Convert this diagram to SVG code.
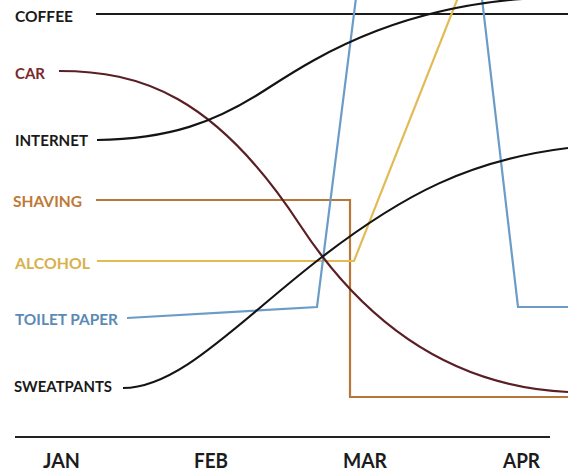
<svg xmlns="http://www.w3.org/2000/svg" width="568" height="473" viewBox="0 0 568 473">
<style>
text{font-family:Lato,"Open Sans","Liberation Sans",sans-serif;font-weight:700;}
.lbl{font-size:16px;}
.mon{font-size:20px;fill:#1c1c1c;}
.ln{fill:none;stroke-width:2.2;stroke-linejoin:miter;}
.k{fill:#1a1a1a;}
</style>
<rect width="568" height="473" fill="#ffffff"/>
<g id="connectors">
<path id="l-coffee" class="ln" stroke="#1a1a1a" d="M96,14 L568,14"/>
<path id="l-shaving" class="ln" stroke="#b8773a" d="M96,200 L350,200 L350,397 L568,397"/>
<path id="l-alcohol" class="ln" stroke="#e2bb55" d="M97,261 L354,261 L461,-10"/>
<path id="l-toilet" class="ln" stroke="#6b9cc8" d="M127,318 L317,307 L357,-10 L481,-10 L518,307 L568,307"/>
<path id="l-car" class="ln" stroke="#5a1f24" d="M59,71 C140,71 215,95 300,225 C340,286 420,385 568,392"/>
<path id="l-internet" class="ln" stroke="#141414" d="M97,140 C170,139 215,122 262,92 C309,62 400,-2 568,-3"/>
<path id="l-sweatpants" class="ln" stroke="#141414" d="M123,388 C180,388 240,320 322,257 C404,194 470,160 568,148"/>
<path id="axis" class="ln" stroke="#222222" d="M15,437 L550,437"/>
</g>
<g id="coffee"><text class="lbl k" x="15" y="22" textLength="58" lengthAdjust="spacingAndGlyphs">COFFEE</text></g>
<g id="car"><text class="lbl" fill="#7a2a2c" x="15" y="79" textLength="30" lengthAdjust="spacingAndGlyphs">CAR</text></g>
<g id="internet"><text class="lbl k" x="15" y="146" textLength="73" lengthAdjust="spacingAndGlyphs">INTERNET</text></g>
<g id="shaving"><text class="lbl" fill="#c07836" x="13" y="207" textLength="69" lengthAdjust="spacingAndGlyphs">SHAVING</text></g>
<g id="alcohol"><text class="lbl" fill="#d7b14c" x="15" y="269" textLength="75" lengthAdjust="spacingAndGlyphs">ALCOHOL</text></g>
<g id="toilet-paper"><text class="lbl" fill="#5b8ab6" x="15" y="325" textLength="103" lengthAdjust="spacingAndGlyphs">TOILET PAPER</text></g>
<g id="sweatpants"><text class="lbl k" x="14" y="392" textLength="98" lengthAdjust="spacingAndGlyphs">SWEATPANTS</text></g>
<g id="months">
<text class="mon" x="43" y="468" textLength="37" lengthAdjust="spacingAndGlyphs">JAN</text>
<text class="mon" x="194" y="468" textLength="34" lengthAdjust="spacingAndGlyphs">FEB</text>
<text class="mon" x="343" y="468" textLength="44" lengthAdjust="spacingAndGlyphs">MAR</text>
<text class="mon" x="503" y="468" textLength="37" lengthAdjust="spacingAndGlyphs">APR</text>
</g>
</svg>
